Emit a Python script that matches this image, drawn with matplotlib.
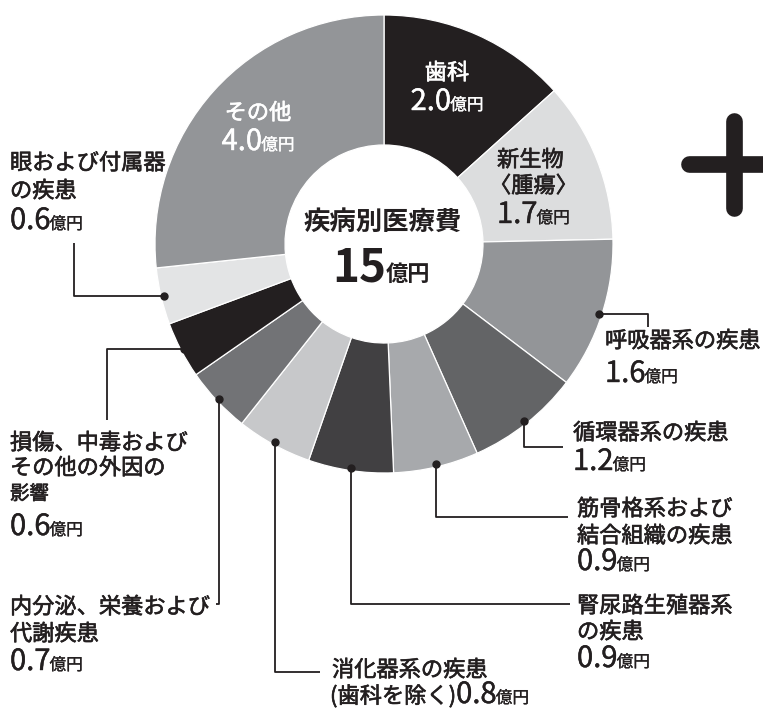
import matplotlib
matplotlib.use('Agg')
import matplotlib.pyplot as plt
import matplotlib.patheffects as pe
import numpy as np

plt.rcParams['font.family'] = ['Noto Sans CJK JP', 'DejaVu Sans']

# 疾病別医療費（単位：億円）
categories = ['歯科', '新生物〈腫瘍〉', '呼吸器系の疾患', '循環器系の疾患',
              '筋骨格系および結合組織の疾患', '腎尿路生殖器系の疾患',
              '消化器系の疾患（歯科を除く）', '内分泌、栄養および代謝疾患',
              '損傷、中毒およびその他の外因の影響', '眼および付属器の疾患', 'その他']
values = [2.0, 1.7, 1.6, 1.2, 0.9, 0.9, 0.8, 0.7, 0.6, 0.6, 4.0]
colors = ['#231f20', '#dcddde', '#939598', '#636466', '#a7a9ac', '#414042',
          '#c7c8ca', '#727376', '#231f20', '#e3e4e5', '#939598']
unit = '億円'
title = '疾病別医療費'

INK = '#231f20'

fig = plt.figure(figsize=(7.63, 7.11), dpi=100)
ax = fig.add_axes([0, 0, 1, 1])

cx, cy = 384, 244
R, W = 229, 130

# y axis is flipped below, so counterclock here runs clockwise on screen
wedges, _ = ax.pie(values, colors=colors, startangle=-90, counterclock=True,
                   center=(cx, cy), radius=R,
                   wedgeprops=dict(width=W, edgecolor='white', linewidth=0.9))
ax.set_xlim(0, 763)
ax.set_ylim(711, 0)
ax.set_aspect('equal')
ax.axis('off')

renderer = fig.canvas.get_renderer()


def thicken(t, color, w=0.45):
    # regular Noto is a bit light, give it a thin outline of its own colour
    if w > 0:
        t.set_path_effects([pe.withStroke(linewidth=w, foreground=color)])
    return t


def money(x, y, num, color=INK, ha='left', nsize=21, usize=12,
          weight='normal', prefix=None, psize=16):
    """number + small 億円, sitting on one baseline"""
    parts = []
    if prefix:
        parts.append((prefix, psize, 0.45))
    parts.append((num, nsize, 0.3))
    parts.append((unit, usize, 0.2))
    texts = [thicken(ax.text(x, y, s, fontsize=fs, color=color,
                             fontweight=weight, ha='left', va='baseline'),
                     color, 0.0 if weight == 'bold' else sw)
             for s, fs, sw in parts]
    widths = [t.get_window_extent(renderer).width for t in texts]
    gap = -1
    total = sum(widths) + gap
    x0 = x - total / 2 if ha == 'center' else x
    for i, (t, w) in enumerate(zip(texts, widths)):
        t.set_x(x0)
        x0 += w + (gap if i == len(texts) - 2 else 0)


def lines(x, rows, color=INK, ha='left', size=16, weight='normal'):
    out = []
    for s, y, *fs in rows:
        t = ax.text(x, y, s, fontsize=fs[0] if fs else size, color=color,
                    fontweight=weight, ha=ha, va='center')
        out.append(thicken(t, color))
    return out


vlab = [f'{v:.1f}' for v in values]

# labels inside the ring
lines(447, [('歯科', 73)], color='white', ha='center')
money(447, 110, vlab[0], color='white', ha='center')
lines(258, [('その他', 113)], color='white', ha='center')
money(258, 150, vlab[10], color='white', ha='center')
neo = lines(497, [('新生物', 160), ('〈腫瘍〉', 186)])
neo[1].set_x(489)
money(497, 223, vlab[1])

# labels outside, right side
lines(605, [('呼吸器系の疾患', 341)])
money(605, 382, vlab[2])
lines(573, [('循環器系の疾患', 433)])
money(573, 470, vlab[3])
lines(577, [('筋骨格系および', 509), ('結合組織の疾患', 536)])
money(577, 570, vlab[4])
lines(577, [('腎尿路生殖器系', 606), ('の疾患', 632)])
money(577, 667, vlab[5])
lines(332, [('消化器系の疾患', 670)])
money(330, 703, vlab[6], prefix='(歯科を除く)')

# labels outside, left side
lines(10, [('内分泌、栄養および', 607), ('代謝疾患', 634)])
money(10, 670, vlab[7])
lines(10, [('損傷、中毒および', 443), ('その他の外因の', 468), ('影響', 494, 14)])
money(10, 535, vlab[8])
lines(10, [('眼および付属器', 163), ('の疾患', 191)])
money(10, 229, vlab[9])

# centre of the donut
ax.text(383, 222, title, fontsize=19, fontweight='bold', color=INK,
        ha='center', va='center')
money(381, 281, f'{sum(values):.0f}', nsize=33, usize=16, weight='bold',
      ha='center')

# leader lines: start at the wedge's middle angle on the outer rim
leaders = {
    2: [('h', 648), ('v', 327)],
    3: [('v', 447), ('h', 563)],
    4: [('v', 517), ('h', 568)],
    5: [('v', 604), ('h', 570)],
    6: [('v', 672), ('h', 320)],
    7: [('v', 604), ('h', 216)],
    8: [('h', 107), ('v', 420)],
    9: [('h', 74), ('v', 243)],
}
r_dot = 226
for i, path in leaders.items():
    w = wedges[i]
    mid = np.deg2rad((w.theta1 + w.theta2) / 2)
    x, y = cx + r_dot * np.cos(mid), cy + r_dot * np.sin(mid)
    xs, ys = [x], [y]
    for d, v in path:
        if d == 'h':
            x = v
        else:
            y = v
        xs.append(x)
        ys.append(y)
    ax.plot(xs, ys, color=INK, lw=1.3, solid_capstyle='butt')
    ax.plot(xs[0], ys[0], 'o', color=INK, ms=5)

# plus sign at the right edge
ax.plot([689, 790], [164, 164], color=INK, lw=12, solid_capstyle='round')
ax.plot([734, 734], [121, 208], color=INK, lw=12, solid_capstyle='round')

fig.savefig('out.png', dpi=100, facecolor='white')
